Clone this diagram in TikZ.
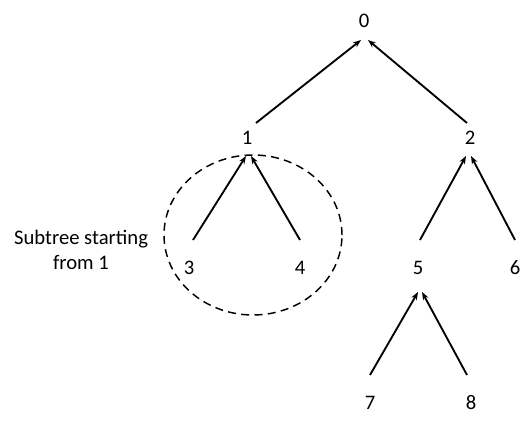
\documentclass[tikz,border=0pt]{standalone}
\usepackage{fontspec}
\setmainfont{Carlito}
\usepackage{tikz}
\usetikzlibrary{arrows.meta}

\begin{document}
\begin{tikzpicture}[
  x=0.75pt, y=0.75pt,
  vert/.style={inner sep=0pt, font=\fontsize{15.5}{18.75}\selectfont},
  note/.style={vert, align=center},
  link/.style={draw, line width=1.4pt, -{Stealth[length=6pt,width=4.5pt]}},
  group/.style={draw, dashed, line width=1.1pt, dash pattern=on 6pt off 4pt},
]
\useasboundingbox (0,0) rectangle (531,432);

% tree vertices
\node[vert] (n0) at (364,411) {0};
\node[vert] (n1) at (247,294) {1};
\node[vert] (n2) at (470,294) {2};
\node[vert] (n3) at (189,164) {3};
\node[vert] (n4) at (300,164) {4};
\node[vert] (n5) at (418,164) {5};
\node[vert] (n6) at (515,164) {6};
\node[vert] (n7) at (370,29) {7};
\node[vert] (n8) at (471,29) {8};
\node[note] (sub) at (81,182) {Subtree starting\\ from 1};

% child -> parent
\draw[link] ([shift={(9,15)}]n1.center) -- ([shift={(-3,-19)}]n0.center);
\draw[link] ([shift={(-3,15)}]n2.center) -- ([shift={(4,-19)}]n0.center);
\draw[link] ([shift={(4,28)}]n3.center) -- ([shift={(-1,-18)}]n1.center);
\draw[link] ([shift={(0,28)}]n4.center) -- ([shift={(4,-18)}]n1.center);
\draw[link] ([shift={(2,28)}]n5.center) -- ([shift={(-4,-18)}]n2.center);
\draw[link] ([shift={(0,28)}]n6.center) -- ([shift={(1,-18)}]n2.center);
\draw[link] ([shift={(0,28)}]n7.center) -- ([shift={(0,-24)}]n5.center);
\draw[link] ([shift={(-4,28)}]n8.center) -- ([shift={(4,-24)}]n5.center);

% subtree of 1
\draw[group] (253,197) ellipse [x radius=89, y radius=80];
\end{tikzpicture}
\end{document}
